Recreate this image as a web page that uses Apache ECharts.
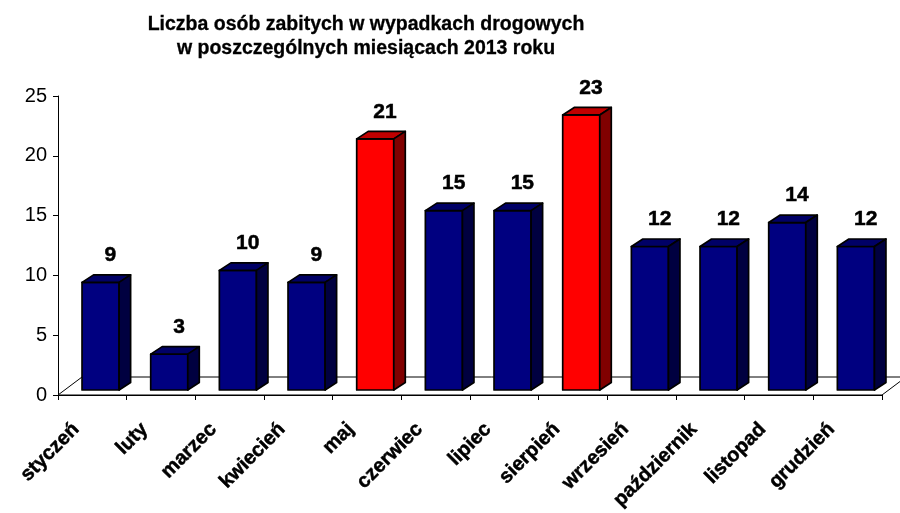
<!DOCTYPE html>
<html><head><meta charset="utf-8">
<script src="https://cdn.jsdelivr.net/npm/echarts@6/dist/echarts.min.js"></script>
<style>html,body{margin:0;padding:0;background:#fff}#c{width:900px;height:513px}</style>
</head><body><div id="c"></div>
<script>
const months = ['styczeń','luty','marzec','kwiecień','maj','czerwiec','lipiec','sierpień','wrzesień','październik','listopad','grudzień'];
const killed = [9,3,10,9,21,15,15,23,12,12,14,12];
const highlighted = [0,0,0,0,1,0,0,1,0,0,0,0];
const yMin = 0, yMax = 25, yStep = 5;
const titleLines = ['Liczba osób zabitych w wypadkach drogowych','w poszczególnych miesiącach 2013 roku'];

const FONT = 'Arial, "Liberation Sans", sans-serif';
const DX = 11.5, DY = 7.5, LIFT = 5, FDX = 24, FDY = 18;
const palette = {
  0: ['#000080', '#000066', '#000040'],
  1: ['#ff0000', '#c00000', '#800000']
};

function renderFloor(params, api) {
  const cs = params.coordSys;
  const L = cs.x, R = cs.x + cs.width, B = cs.y + cs.height;
  return {
    type: 'polygon',
    shape: { points: [[L, B], [L + FDX, B - FDY], [R + FDX, B - FDY], [R, B]] },
    style: { fill: '#fff', stroke: '#000', lineWidth: 1 }
  };
}

function renderBar(params, api) {
  const i = api.value(0), v = api.value(1), hi = api.value(2);
  const w = api.size([1, 0])[0];
  const base = api.coord([i, 0]);
  const top = api.coord([i, v]);
  const x0 = base[0] - w / 2 + 0.35 * w;
  const x1 = x0 + 0.54 * w;
  const yb = base[1] - LIFT, yt = top[1] - LIFT;
  const c = palette[hi];
  const st = (f) => ({ fill: f, stroke: '#000', lineWidth: 1.7, lineJoin: 'round' });
  return {
    type: 'group',
    children: [
      { type: 'polygon', shape: { points: [[x0, yt], [x1, yt], [x1, yb], [x0, yb]] }, style: st(c[0]) },
      { type: 'polygon', shape: { points: [[x0, yt], [x0 + DX, yt - DY], [x1 + DX, yt - DY], [x1, yt]] }, style: st(c[1]) },
      { type: 'polygon', shape: { points: [[x1, yt], [x1 + DX, yt - DY], [x1 + DX, yb - DY], [x1, yb]] }, style: st(c[2]) },
      { type: 'text', x: (x0 + x1 + DX) / 2 + 4, y: yt - 27,
        style: { text: String(v), fill: '#000', font: 'bold 21px ' + FONT, textAlign: 'center', textVerticalAlign: 'middle',
                 stroke: '#000', lineWidth: 0.5 } }
    ]
  };
}

const chart = echarts.init(document.getElementById('c'), null, { renderer: 'canvas' });
chart.setOption({
  animation: false,
  backgroundColor: '#fff',
  graphic: titleLines.map((t, k) => ({
    type: 'text', x: 366, y: 25 + k * 24,
    style: { text: t, fill: '#000', font: 'bold 19.5px ' + FONT, textAlign: 'center', textVerticalAlign: 'middle',
             stroke: '#000', lineWidth: 0.3 }
  })),
  grid: { left: 58, right: 18, top: 96, bottom: 118 },
  xAxis: {
    type: 'category', data: months,
    axisLine: { lineStyle: { color: '#000', width: 1 } },
    axisTick: { show: true, length: 5, lineStyle: { color: '#000' } },
    axisLabel: { rotate: 45, interval: 0, color: '#000', fontFamily: FONT, fontWeight: 'bold', fontSize: 20,
                 margin: 15, padding: [0, 23, 0, 0], textBorderColor: '#000', textBorderWidth: 0.5 }
  },
  yAxis: {
    type: 'value', min: yMin, max: yMax, interval: yStep,
    axisLine: { show: true, lineStyle: { color: '#000', width: 1 } },
    axisTick: { show: true, length: 5, lineStyle: { color: '#000' } },
    splitLine: { show: false },
    axisLabel: { color: '#000', fontFamily: FONT, fontSize: 20, margin: 11 }
  },
  series: [
    { type: 'custom', renderItem: renderFloor, data: [[0]], z: 1, silent: true, clip: false },
    { type: 'custom', renderItem: renderBar, z: 3, clip: false,
      encode: { x: 0, y: 1 },
      data: months.map((m, i) => [i, killed[i], highlighted[i]]) }
  ]
});
</script></body></html>
